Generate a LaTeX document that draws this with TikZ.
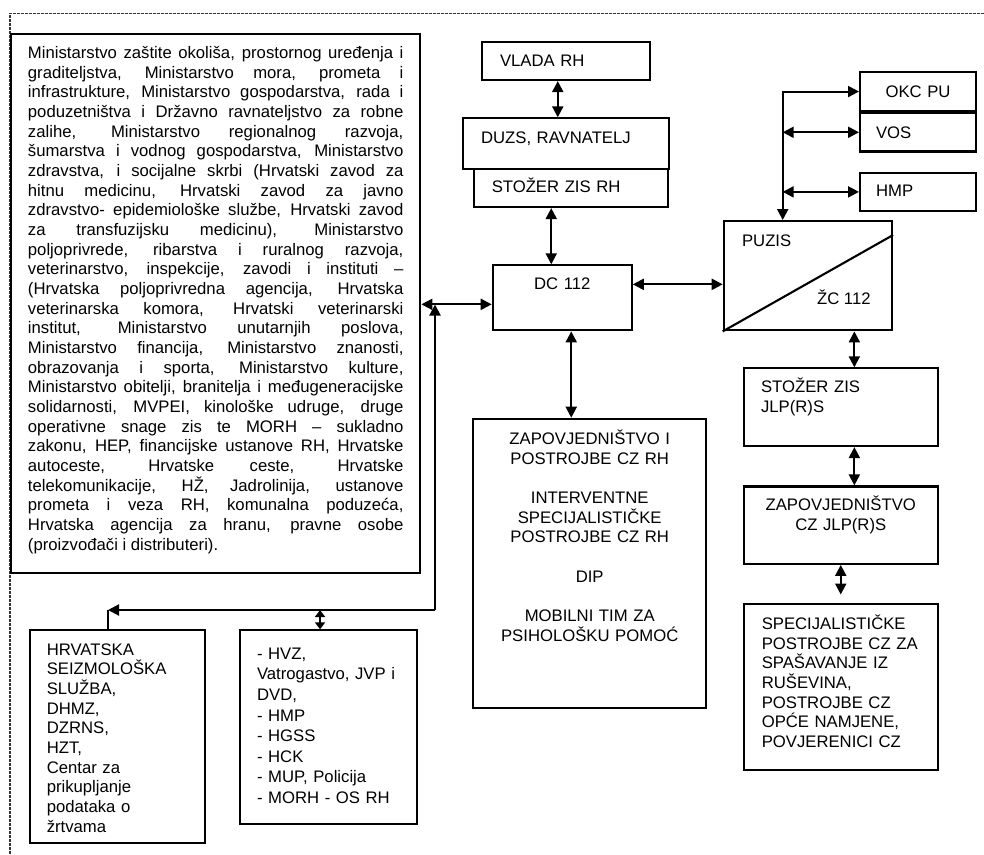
\documentclass[tikz,border=0pt]{standalone}
\usepackage{fontspec}
\setmainfont{Liberation Sans}
\usetikzlibrary{positioning,arrows.meta}

\begin{document}
\begin{tikzpicture}[x=1pt, y=-1pt, line width=2.1pt,
        >={Triangle[length=11pt,width=11pt]},
        blok/.style={draw, anchor=north west, inner ysep=0pt, font=\fontsize{16.7}{19.67}\selectfont},
        txt/.style={inner sep=0pt, font=\fontsize{16.7}{19.67}\selectfont},
        frame/.style={line width=1.1pt, black!80, dash pattern=on 3pt off 1pt},
        tinytips/.style={>={Triangle[length=7pt,width=10pt]}}]
        \useasboundingbox (0,0) rectangle (984,854);
        \draw[frame] (984,13.3) -- (10,13.3) -- (10,854);

        \node[blok, text width=375.5pt, inner xsep=16.9pt, text height=24.6pt, text depth=514.4pt, align=justify] (ministarstva) at (10,32.7)
            {\hyphenpenalty=10000 \exhyphenpenalty=10000 \tolerance=10000
            Ministarstvo zaštite okoliša, prostornog uređenja i\linebreak
            graditeljstva, Ministarstvo mora, prometa i\linebreak
            infrastrukture, Ministarstvo gospodarstva, rada i\linebreak
            poduzetništva i Državno ravnateljstvo za robne\linebreak
            zalihe, Ministarstvo regionalnog razvoja,\linebreak
            šumarstva i vodnog gospodarstva, Ministarstvo\linebreak
            zdravstva, i socijalne skrbi (Hrvatski zavod za\linebreak
            hitnu medicinu, Hrvatski zavod za javno\linebreak
            zdravstvo- epidemiološke službe, Hrvatski zavod\linebreak
            za transfuzijsku medicinu), Ministarstvo\linebreak
            poljoprivrede, ribarstva i ruralnog razvoja,\linebreak
            veterinarstvo, inspekcije, zavodi i instituti –\linebreak
            (Hrvatska poljoprivredna agencija, Hrvatska\linebreak
            veterinarska komora, Hrvatski veterinarski\linebreak
            institut, Ministarstvo unutarnjih poslova,\linebreak
            Ministarstvo financija, Ministarstvo znanosti,\linebreak
            obrazovanja i sporta, Ministarstvo kulture,\linebreak
            Ministarstvo obitelji, branitelja i međugeneracijske\linebreak
            solidarnosti, MVPEI, kinološke udruge, druge\linebreak
            operativne snage zis te MORH – sukladno\linebreak
            zakonu, HEP, financijske ustanove RH, Hrvatske\linebreak
            autoceste, Hrvatske ceste, Hrvatske\linebreak
            telekomunikacije, HŽ, Jadrolinija, ustanove\linebreak
            prometa i veza RH, komunalna poduzeća,\linebreak
            Hrvatska agencija za hranu, pravne osobe\linebreak
            (proizvođači i distributeri).};

        \node[blok, text width=132pt, inner xsep=18.3pt, text height=25pt, text depth=13.3pt, align=left] (vlada) at (480.7,40.7) {VLADA RH};
        \node[blok, text width=170pt, inner xsep=17.7pt, text height=25pt, text depth=25.4pt, align=left] (duzs) at (462.3,117.3) {DUZS, RAVNATELJ};
        \node[blok, text width=158pt, inner xsep=18pt, text height=24pt, text depth=14.3pt, align=left] (stozerrh) at (472.7,167.7) {STOŽER ZIS RH};
        \node[blok, text width=129pt, inner xsep=5pt, text height=24pt, text depth=41pt, align=center] (dc) at (491.7,264.3) {DC 112};
        \node[blok, text width=222.7pt, inner xsep=5pt, text height=25.6pt, text depth=263.7pt, align=center] (czrh) at (472.3,417.7)
            {ZAPOVJEDNIŠTVO I\\POSTROJBE CZ RH\\[19.67pt]INTERVENTNE\\SPECIJALISTIČKE\\POSTROJBE CZ RH\\[19.67pt]DIP\\[19.67pt]MOBILNI TIM ZA\\PSIHOLOŠKU POMOĆ};

        \node[blok, text width=131.7pt, inner xsep=18.3pt, text height=25pt, text depth=84.3pt, align=left] (puzis) at (722.7,220) {PUZIS};
        \node[txt, anchor=base west] (zc) at (816,304) {ŽC 112};
        \draw (puzis.south west) -- ([yshift=-15pt]puzis.north east);

        \node[blok, text width=106pt, inner xsep=5pt, text height=25.7pt, text depth=13.3pt, align=center] (okc) at (859,71) {OKC PU};
        \node[blok, below=0pt of okc, text width=84pt, inner xsep=16pt, text height=25pt, text depth=13.3pt, align=left] (vos) {VOS};
        \node[blok, below=19pt of vos, text width=84pt, inner xsep=16pt, text height=24.4pt, text depth=14.3pt, align=left] (hmp) {HMP};

        \node[blok, text width=159.4pt, inner xsep=17.3pt, text height=24.4pt, text depth=53.3pt, align=left] (stozerjlp) at (742.7,367.3) {STOŽER ZIS\\JLP(R)S};
        \node[blok, below=38.3pt of stozerjlp, text width=184pt, inner xsep=5pt, text height=24.4pt, text depth=53pt, align=center] (czjlp) {ZAPOVJEDNIŠTVO\\CZ JLP(R)S};
        \node[blok, below=37.6pt of czjlp, text width=158pt, inner xsep=18pt, text height=26pt, text depth=140.7pt, align=left] (spec)
            {SPECIJALISTIČKE\\POSTROJBE CZ ZA\\SPAŠAVANJE IZ\\RUŠEVINA,\\POSTROJBE CZ\\OPĆE NAMJENE,\\POVJERENICI CZ};

        \node[blok, text width=141.9pt, inner xsep=16.4pt, text height=24.7pt, text depth=187.7pt, align=left] (seis) at (29.3,629.3)
            {HRVATSKA\\SEIZMOLOŠKA\\SLUŽBA,\\DHMZ,\\DZRNS,\\HZT,\\Centar za\\prikupljanje\\podataka o\\žrtvama};
        \node[blok, font=\fontsize{16.7}{20.6}\selectfont, text width=143pt, inner xsep=17pt, text height=29pt, text depth=164.4pt, align=left] (snage) at (239,629.3)
            {- HVZ,\\Vatrogastvo, JVP i\\DVD,\\- HMP\\- HGSS\\- HCK\\- MUP, Policija\\- MORH - OS RH};

        % 
        \draw[<->] ([xshift=-8.3pt]vlada.south) -- ([xshift=-8.3pt]vlada.south |- duzs.north);
        \draw[<->] ([xshift=-11pt]dc.north) -- ([xshift=-11pt]dc.north |- stozerrh.south);
        \draw[<->] ([yshift=-6.5pt]dc.west) -- ([yshift=-6.5pt]dc.west -| ministarstva.east);
        \draw[<->] ([yshift=13.5pt]dc.east) -- ([yshift=13.5pt]dc.east -| puzis.west);
        \draw[<->] ([xshift=9pt]dc.south) -- ([xshift=9pt]dc.south |- czrh.north);
        %
        \coordinate (bus) at ([xshift=-25.2pt]puzis.north);
        \draw[<->] (okc.west) -| (bus);
        \draw[<->] (bus |- vos.west) -- (vos.west);
        \draw[<->] (bus |- hmp.west) -- (hmp.west);
        %
        \draw[<->] ([xshift=13.6pt]stozerjlp.north) -- ([xshift=13.6pt]stozerjlp.north |- puzis.south);
        \draw[<->] ([xshift=13.6pt]stozerjlp.south) -- ([xshift=13.6pt]czjlp.north);
        \draw[<->, shorten >=8pt] (czjlp.south) -- (spec.north);
        %
        \coordinate (tap) at (435,304.5);
        \coordinate (fork) at (435,610);
        \coordinate (seistop) at ([xshift=-9.7pt]seis.north);
        \draw[->] (fork) -- (tap);
        \draw[->] (fork) -- (fork -| seistop);
        \draw (seistop) -- (seistop |- fork);
        \draw[<->, tinytips] ([xshift=-8.5pt]snage.north) -- ([xshift=-8.5pt]snage.north |- fork);
    \end{tikzpicture}
\end{document}
